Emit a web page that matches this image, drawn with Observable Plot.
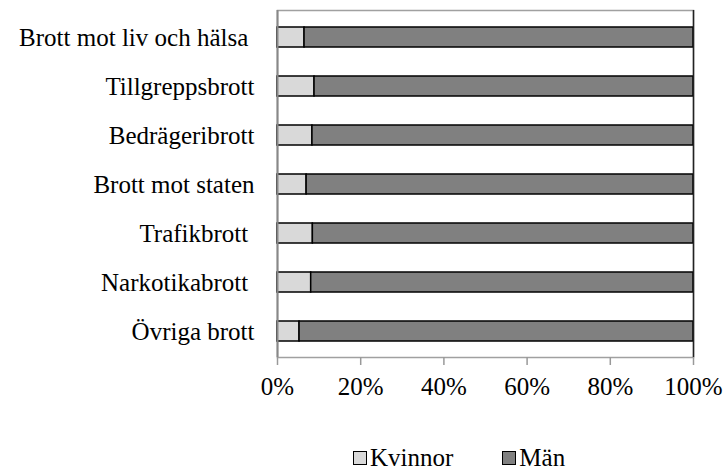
<!DOCTYPE html>
<html>
<head>
<meta charset="utf-8">
<script src="https://cdn.jsdelivr.net/npm/d3@7"></script>
<script src="https://cdn.jsdelivr.net/npm/@observablehq/plot@0.6"></script>
<style>
  body { margin: 0; background: #fff; font-family: "Liberation Serif", "Times New Roman", Tinos, "DejaVu Serif", serif; }
  #wrap { position: relative; width: 723px; height: 470px; }
  #chart svg, #chart svg text { font-family: "Liberation Serif", "Times New Roman", Tinos, "DejaVu Serif", serif !important; }
  #legend { position: absolute; top: 444px; left: 353px; display: flex; align-items: center; font-size: 25px; color: #000; }
  .item { display: flex; align-items: center; }
  .sw { width: 12px; height: 12px; border: 1px solid #000; margin-right: 3px; }
</style>
</head>
<body>
<div id="wrap">
  <div id="chart"></div>
  <div id="legend"></div>
</div>
<script>
// Categories (trailing spaces as in the source labels)
const categories = [
  "Brott mot liv och hälsa ",
  "Tillgreppsbrott",
  "Bedrägeribrott",
  "Brott mot staten",
  "Trafikbrott ",
  "Narkotikabrott ",
  "Övriga brott"
];
const series = ["Kvinnor", "Män"];
const kvinnor = [6.5, 8.9, 8.4, 7.0, 8.5, 8.1, 5.3];
const man = [93.5, 91.1, 91.6, 93.0, 91.5, 91.9, 94.7];
const xTicks = [0, 20, 40, 60, 80, 100];
const colors = ["#d9d9d9", "#808080"];

const data = [];
categories.forEach((c, i) => {
  data.push({category: c, sex: series[0], value: kvinnor[i]});
  data.push({category: c, sex: series[1], value: man[i]});
});

const chart = Plot.plot({
  width: 723,
  height: 420,
  marginLeft: 277,
  marginRight: 30,
  marginTop: 10,
  marginBottom: 63,
  style: {fontSize: "25px", color: "#000", background: "#fff"},
  x: {domain: [0, 100]},
  y: {domain: categories, paddingInner: 0.6, paddingOuter: 0.3},
  color: {domain: series, range: colors},
  marks: [
    Plot.frame({stroke: "#a0a0a0", strokeWidth: 1.5}),
    Plot.barX(data, Plot.stackX({
      y: "category",
      x: "value",
      fill: "sex",
      order: series,
      stroke: "#000",
      strokeWidth: 1.5
    })),
    Plot.ruleX([0], {stroke: "#888", strokeWidth: 2}),
    Plot.ruleX([100], {stroke: "#222", strokeWidth: 1.5}),
    Plot.axisX({
      ticks: xTicks,
      tickFormat: d => d + "%",
      tickSize: 8,
      tickPadding: 12,
      stroke: "#999",
      strokeWidth: 1.5,
      fill: "#000",
      fontSize: 25,
      label: null
    }),
    Plot.axisY({
      tickSize: 0,
      tickPadding: 23,
      tickFormat: d => d.replace(/ $/, "\u00a0"),
      fill: "#000",
      fontSize: 25,
      label: null
    })
  ]
});
document.getElementById("chart").appendChild(chart);

const legend = document.getElementById("legend");
series.forEach((s, i) => {
  const item = document.createElement("div");
  item.className = "item";
  if (i > 0) item.style.marginLeft = "49px";
  const sw = document.createElement("div");
  sw.className = "sw";
  sw.style.background = colors[i];
  const t = document.createElement("span");
  t.textContent = s;
  item.appendChild(sw);
  item.appendChild(t);
  legend.appendChild(item);
});
</script>
</body>
</html>
